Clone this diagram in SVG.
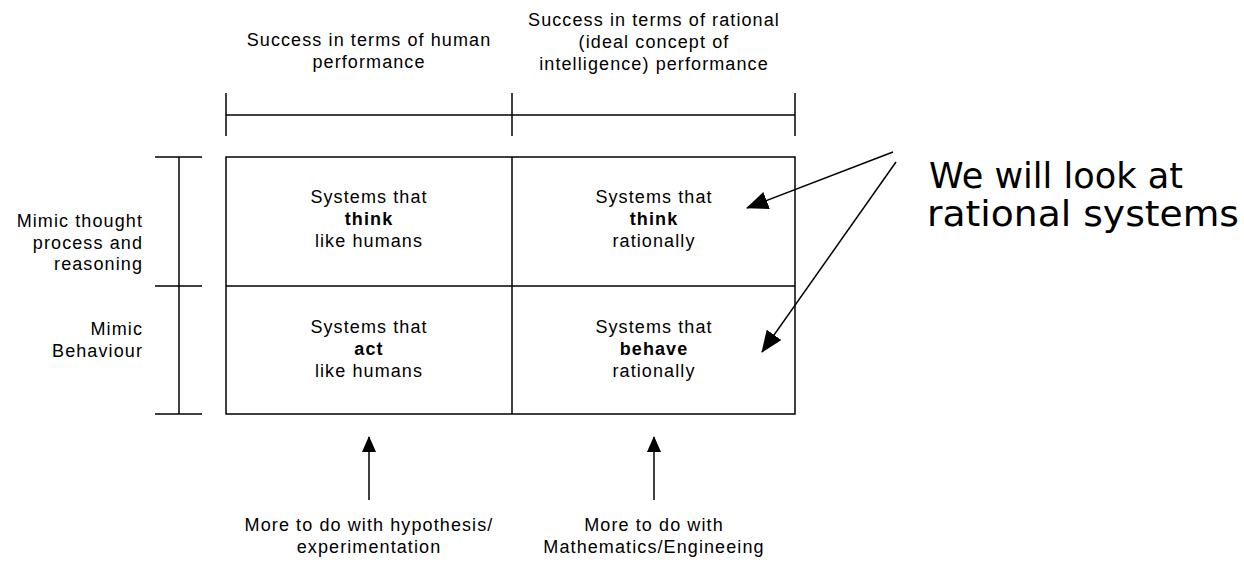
<svg xmlns="http://www.w3.org/2000/svg" width="1244" height="574" viewBox="0 0 1244 574">
  <style>
    .t { font-family: "Liberation Sans", Arial, sans-serif; font-size: 18px; letter-spacing: 1.1px; fill: #000; text-anchor: middle; }
    .r { text-anchor: end; }
    .b { font-weight: bold; }
    .ln { stroke: #000; stroke-width: 1.5; fill: none; }
    .callout { font-family: "Comic Sans MS", "DejaVu Sans", sans-serif; font-size: 36px; fill: #000; }
  </style>
  <defs>
    <marker id="headSmall" viewBox="0 0 16 14" refX="15" refY="7" markerWidth="16" markerHeight="14" markerUnits="userSpaceOnUse" orient="auto">
      <path d="M0,0 L16,7 L0,14 Z" fill="#000"/>
    </marker>
    <marker id="headLarge" viewBox="0 0 22 18" refX="21" refY="9" markerWidth="22" markerHeight="18" markerUnits="userSpaceOnUse" orient="auto">
      <path d="M0,0 L22,9 L0,18 Z" fill="#000"/>
    </marker>
  </defs>
  <rect width="1244" height="574" fill="#fff"/>

  <!-- column headings -->
  <g id="head-human">
    <text class="t" x="369" y="46">Success in terms of human</text>
    <text class="t" x="369" y="68">performance</text>
  </g>
  <g id="head-rational">
    <text class="t" x="654" y="26">Success in terms of rational</text>
    <text class="t" x="654" y="48">(ideal concept of</text>
    <text class="t" x="654" y="70">intelligence) performance</text>
  </g>

  <!-- top dimension bracket -->
  <g id="bracket-top" class="ln">
    <line x1="226" y1="93" x2="226" y2="136"/>
    <line x1="512" y1="93" x2="512" y2="136"/>
    <line x1="795" y1="93" x2="795" y2="136"/>
    <line x1="226" y1="115" x2="795" y2="115"/>
  </g>

  <!-- left dimension bracket -->
  <g id="bracket-left" class="ln">
    <line x1="179" y1="157" x2="179" y2="414"/>
    <line x1="155" y1="157" x2="202" y2="157"/>
    <line x1="155" y1="286" x2="202" y2="286"/>
    <line x1="155" y1="414" x2="202" y2="414"/>
  </g>

  <!-- row headings -->
  <g id="row-thought">
    <text class="t r" x="143" y="227">Mimic thought</text>
    <text class="t r" x="143" y="249">process and</text>
    <text class="t r" x="143" y="270">reasoning</text>
  </g>
  <g id="row-behaviour">
    <text class="t r" x="143" y="335">Mimic</text>
    <text class="t r" x="143" y="357">Behaviour</text>
  </g>

  <!-- 2x2 grid -->
  <g id="grid" class="ln">
    <rect x="226" y="157" width="569" height="257"/>
    <line x1="512" y1="157" x2="512" y2="414"/>
    <line x1="226" y1="286" x2="795" y2="286"/>
  </g>

  <g id="cell-think-human">
    <text class="t" x="369" y="203">Systems that</text>
    <text class="t b" x="369" y="225">think</text>
    <text class="t" x="369" y="247">like humans</text>
  </g>
  <g id="cell-think-rational">
    <text class="t" x="654" y="203">Systems that</text>
    <text class="t b" x="654" y="225">think</text>
    <text class="t" x="654" y="247">rationally</text>
  </g>
  <g id="cell-act-human">
    <text class="t" x="369" y="333">Systems that</text>
    <text class="t b" x="369" y="355">act</text>
    <text class="t" x="369" y="377">like humans</text>
  </g>
  <g id="cell-behave-rational">
    <text class="t" x="654" y="333">Systems that</text>
    <text class="t b" x="654" y="355">behave</text>
    <text class="t" x="654" y="377">rationally</text>
  </g>

  <!-- bottom notes -->
  <g id="note-hypothesis">
    <text class="t" x="369" y="531">More to do with hypothesis/</text>
    <text class="t" x="369" y="553">experimentation</text>
  </g>
  <g id="note-maths">
    <text class="t" x="654" y="531">More to do with</text>
    <text class="t" x="654" y="553">Mathematics/Engineeing</text>
  </g>

  <!-- callout -->
  <g id="callout">
    <text class="callout" x="929" y="188" textLength="254" lengthAdjust="spacingAndGlyphs">We will look at</text>
    <text class="callout" x="927" y="226" textLength="312" lengthAdjust="spacingAndGlyphs">rational systems</text>
  </g>

  <!-- connectors -->
  <g id="connectors" class="ln">
    <line x1="369" y1="500" x2="369" y2="437" marker-end="url(#headSmall)"/>
    <line x1="654" y1="500" x2="654" y2="437" marker-end="url(#headSmall)"/>
    <line x1="893" y1="152" x2="747" y2="208" marker-end="url(#headLarge)"/>
    <line x1="896" y1="162" x2="762" y2="352" marker-end="url(#headLarge)"/>
  </g>
</svg>
